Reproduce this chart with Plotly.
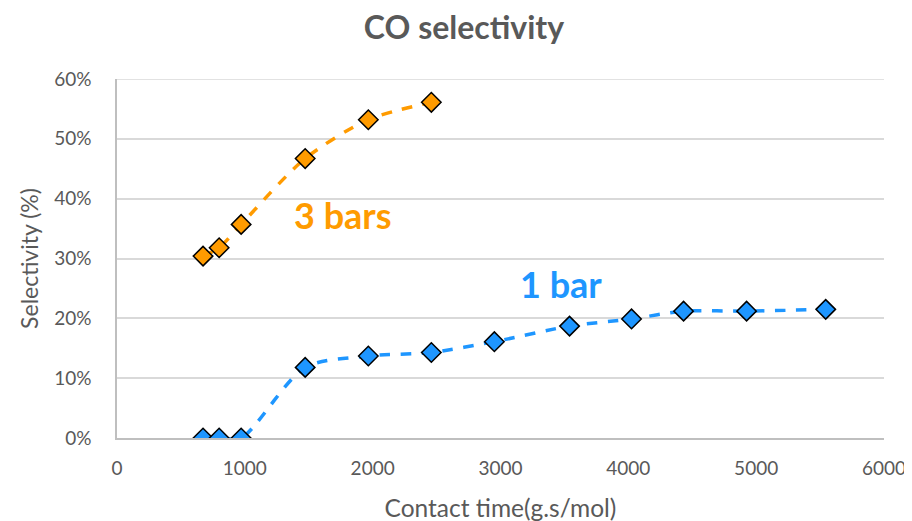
import plotly.graph_objects as go

contact_3bar = [673, 799, 971, 1472, 1966, 2459]
sel_3bar = [0.304, 0.318, 0.357, 0.467, 0.532, 0.561]

contact_1bar = [673, 799, 971, 1472, 1966, 2459, 2952, 3540, 4025, 4432, 4925, 5544]
sel_1bar = [0.0, 0.0, 0.0, 0.118, 0.137, 0.143, 0.161, 0.187, 0.199, 0.212, 0.212, 0.215]

x_ticks = [0, 1000, 2000, 3000, 4000, 5000, 6000]
y_ticks = [0, 0.1, 0.2, 0.3, 0.4, 0.5, 0.6]

orange = "#FF9B00"
blue = "#1E96FF"
font = "Lato"
gray = "#595959"

fig = go.Figure()
fig.add_trace(go.Scatter(
    x=contact_3bar, y=sel_3bar, mode="lines+markers", name="3 bars",
    line=dict(color=orange, width=3.5, dash="dash", shape="spline", smoothing=0.8),
    marker=dict(symbol="diamond", size=15, color=orange, line=dict(color="black", width=1.5)),
))
fig.add_trace(go.Scatter(
    x=contact_1bar, y=sel_1bar, mode="lines+markers", name="1 bar",
    line=dict(color=blue, width=3.5, dash="dash", shape="spline", smoothing=0.8),
    marker=dict(symbol="diamond", size=15, color=blue, line=dict(color="black", width=1.5)),
))

fig.add_annotation(x=1765, y=0.372, text="<b>3 bars</b>", showarrow=False,
                   font=dict(family=font, size=36, color=orange))
fig.add_annotation(x=3475, y=0.258, text="<b>1 bar</b>", showarrow=False,
                   font=dict(family=font, size=36, color=blue))

fig.update_layout(
    width=912, height=521,
    paper_bgcolor="white", plot_bgcolor="white",
    showlegend=False,
    margin=dict(l=109, r=36, t=71, b=91),
    title=dict(text="<b>CO selectivity</b>", x=0.5, xanchor="center", y=0.962, yanchor="middle",
               font=dict(family=font, size=32, color=gray)),
    xaxis=dict(range=[0, 6000], tickvals=x_ticks, ticktext=[str(v) for v in x_ticks],
               showgrid=False, zeroline=False, showline=True, linecolor="#BFBFBF", linewidth=1.5,
               ticks="", ticklabelstandoff=12, tickfont=dict(family=font, size=19, color=gray),
               title=dict(text="Contact time(g.s/mol)", font=dict(family=font, size=24.5, color=gray), standoff=22)),
    yaxis=dict(range=[0, 0.6], tickvals=y_ticks, ticktext=[f"{int(round(v*100))}%" for v in y_ticks],
               showgrid=True, gridcolor="#D9D9D9", gridwidth=1.5, zeroline=False,
               showline=True, linecolor="#BFBFBF", linewidth=1.5,
               ticks="", ticklabelstandoff=20, tickfont=dict(family=font, size=19, color=gray),
               title=dict(text="Selectivity (%)", font=dict(family=font, size=23, color=gray), standoff=9)),
)
fig.add_shape(type="line", xref="x", yref="y", x0=0, x1=6000, y0=0.6, y1=0.6,
              line=dict(color="#D9D9D9", width=1.5), layer="below")

fig.write_html("out.html")
